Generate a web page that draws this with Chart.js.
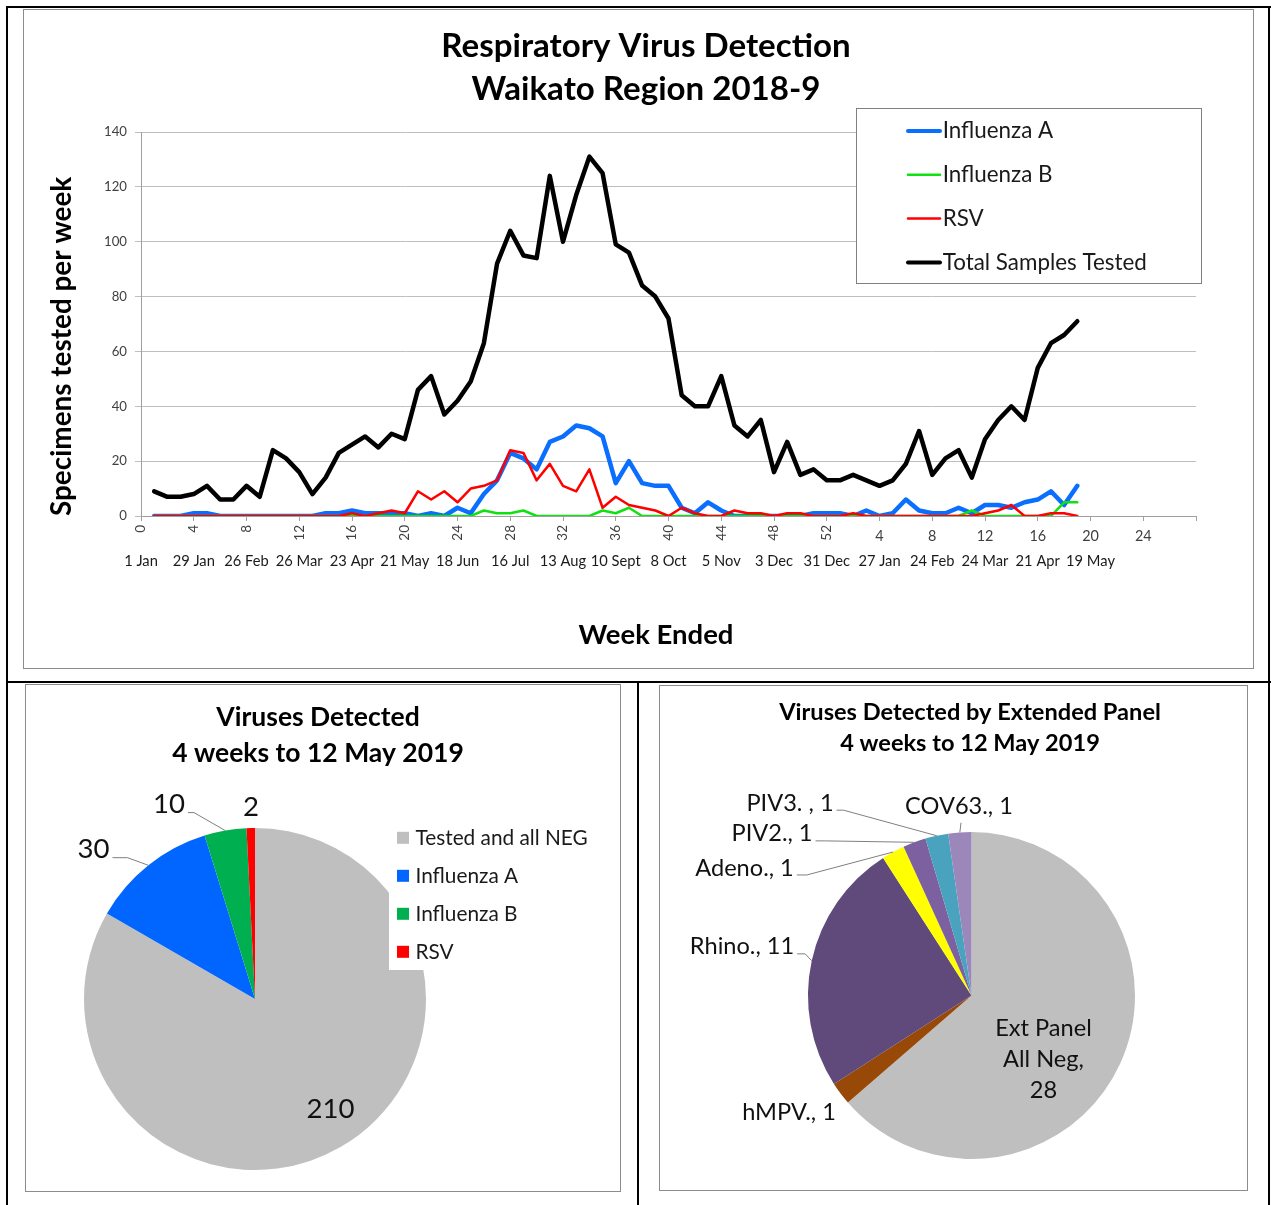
<!DOCTYPE html>
<html lang="en">
<head>
<meta charset="utf-8">
<title>Respiratory Virus Detection - Waikato Region 2018-9</title>
<script src="https://cdn.jsdelivr.net/npm/chart.js@4.4.1/dist/chart.umd.min.js"></script>
<style>
  html, body { margin: 0; padding: 0; background: #fff; }
  #page { position: relative; width: 1271px; height: 1205px; overflow: hidden; background: #fff; }
  .rule { position: absolute; background: #000; }
  .frame { position: absolute; box-sizing: border-box; border: 1px solid #8c8c8c; }
  .frame .box { position: absolute; left: 0; top: 0; right: 0; bottom: 0; }
</style>
</head>
<body>
<div id="page">
  <div class="frame" style="left:23px;top:9px;width:1231px;height:660px"><div class="box"><canvas id="trendChart"></canvas></div></div>
  <div class="frame" style="left:25px;top:684px;width:596px;height:508px"><div class="box"><canvas id="virusPie"></canvas></div></div>
  <div class="frame" style="left:659px;top:685px;width:589px;height:506px"><div class="box"><canvas id="panelPie"></canvas></div></div>
  <div class="rule" style="left:6px;top:6px;width:1265px;height:2px"></div>
  <div class="rule" style="left:6px;top:6px;width:2px;height:1199px"></div>
  <div class="rule" style="left:1268px;top:6px;width:2px;height:1199px"></div>
  <div class="rule" style="left:6px;top:681px;width:1265px;height:2px"></div>
  <div class="rule" style="left:637px;top:681px;width:2px;height:524px"></div>
</div>
<script>
const FONT = "Lato, 'Open Sans', sans-serif";

// weekly counts: 2018 weeks 1-52 followed by 2019 weeks 1-19
const fluA = [
  0, 0, 0, 1, 1, 0, 0, 0, 0, 0,
  0, 0, 0, 1, 1, 2, 1, 1, 1, 1,
  0, 1, 0, 3, 1, 8, 13, 23, 21, 17,
  27, 29, 33, 32, 29, 12, 20, 12, 11, 11,
  3, 1, 5, 2, 0, 0, 0, 0, 0, 0,
  1, 1,
  1, 0, 2, 0, 1, 6, 2, 1, 1, 3,
  1, 4, 4, 3, 5, 6, 9, 4, 11
];
const fluB = [
  0, 0, 0, 0, 0, 0, 0, 0, 0, 0,
  0, 0, 0, 0, 0, 0, 0, 0, 0, 0,
  0, 0, 0, 0, 0, 2, 1, 1, 2, 0,
  0, 0, 0, 0, 2, 1, 3, 0, 0, 0,
  0, 0, 0, 0, 0, 0, 0, 0, 0, 0,
  0, 0,
  0, 0, 0, 0, 0, 0, 0, 0, 0, 0,
  2, 0, 0, 0, 0, 0, 0, 5, 5
];
const rsv = [
  0, 0, 0, 0, 0, 0, 0, 0, 0, 0,
  0, 0, 0, 0, 0, 1, 0, 1, 2, 1,
  9, 6, 9, 5, 10, 11, 13, 24, 23, 13,
  19, 11, 9, 17, 3, 7, 4, 3, 2, 0,
  3, 1, 0, 0, 2, 1, 1, 0, 1, 1,
  0, 0,
  0, 1, 0, 0, 0, 0, 0, 0, 0, 0,
  0, 1, 2, 4, 0, 0, 1, 1, 0
];
const totalTested = [
  9, 7, 7, 8, 11, 6, 6, 11, 7, 24,
  21, 16, 8, 14, 23, 26, 29, 25, 30, 28,
  46, 51, 37, 42, 49, 63, 92, 104, 95, 94,
  124, 100, 117, 131, 125, 99, 96, 84, 80, 72,
  44, 40, 40, 51, 33, 29, 35, 16, 27, 15,
  17, 13,
  13, 15, 13, 11, 13, 19, 31, 15, 21, 24,
  14, 28, 35, 40, 35, 54, 63, 66, 71
];

// axis labels (continuous week number; 2019 restarts the count)
const weekTickValues = [0, 4, 8, 12, 16, 20, 24, 28, 32, 36, 40, 44, 48, 52, 56, 60, 64, 68, 72, 76];
const weekTickLabels = ['0', '4', '8', '12', '16', '20', '24', '28', '32', '36', '40', '44', '48', '52', '4', '8', '12', '16', '20', '24'];
const weekEndedValues = [0, 4, 8, 12, 16, 20, 24, 28, 32, 36, 40, 44, 48, 52, 56, 60, 64, 68, 72];
const weekEndedLabels = ['1 Jan', '29 Jan', '26 Feb', '26 Mar', '23 Apr', '21 May', '18 Jun', '16 Jul', '13 Aug',
  '10 Sept', '8 Oct', '5 Nov', '3 Dec', '31 Dec', '27 Jan', '24 Feb', '24 Mar', '21 Apr', '19 May'];

// pie: viruses detected, 4 weeks to 12 May 2019
const virusLabels = ['Tested and all NEG', 'Influenza A', 'Influenza B', 'RSV'];
const virusCounts = [210, 30, 10, 2];
const virusColours = ['#bfbfbf', '#0066ff', '#00b050', '#ff0000'];

// pie: extended panel
const panelLabels = ['Ext Panel\nAll Neg', 'hMPV.', 'Rhino.', 'Adeno.', 'PIV2.', 'PIV3. ', 'COV63.'];
const panelCounts = [28, 1, 11, 1, 1, 1, 1];
const panelColours = ['#bfbfbf', '#984807', '#604a7b', '#ffff00', '#7d60a0', '#4aa3be', '#9b87b9'];

// pick a font size so a string spans the width it has in the original
const measureCtx = document.createElement('canvas').getContext('2d');
function fitSize(text, weight, width) {
    measureCtx.font = `${weight} 100px ${FONT}`;
    return Math.round(1000 * width / measureCtx.measureText(text).width) / 10;
}

const toPoints = arr => arr.map((v, i) => ({ x: i + 1, y: v }));

// free text drawn at fixed canvas spots (titles)
const panelText = {
    id: 'panelText',
    afterDraw(chart, args, opts) {
        const { ctx } = chart;
        ctx.save();
        ctx.fillStyle = '#000';
        ctx.textAlign = 'center';
        ctx.textBaseline = 'middle';
        (opts.items || []).forEach(it => {
            ctx.font = `${it.weight || 'normal'} ${it.size}px ${FONT}`;
            ctx.fillText(it.text, it.x, it.y);
        });
        ctx.restore();
    }
};

// legend with white backing box, placed where the original had it
const boxLegend = {
    id: 'boxLegend',
    afterDraw(chart, args, opts) {
        if (!opts.box) return;
        const { ctx } = chart;
        const b = opts.box;
        ctx.save();
        ctx.fillStyle = '#fff';
        ctx.fillRect(b.x, b.y, b.w, b.h);
        if (opts.borderColor) {
            ctx.strokeStyle = opts.borderColor;
            ctx.lineWidth = 1;
            ctx.strokeRect(b.x + 0.5, b.y + 0.5, b.w - 1, b.h - 1);
        }
        let items;
        if (opts.marker === 'line') {
            items = chart.data.datasets.map(ds => ({ text: ds.label, color: ds.borderColor, width: ds.borderWidth }));
        } else {
            const ds = chart.data.datasets[0];
            items = chart.data.labels.map((l, i) => ({ text: l, color: ds.backgroundColor[i] }));
        }
        ctx.font = `${opts.size}px ${FONT}`;
        ctx.textBaseline = 'middle';
        ctx.textAlign = 'left';
        items.forEach((it, i) => {
            const y = opts.firstY + i * opts.stepY;
            if (opts.marker === 'line') {
                ctx.strokeStyle = it.color;
                ctx.lineWidth = Math.min(it.width, 4);
                ctx.lineCap = 'round';
                ctx.beginPath();
                ctx.moveTo(opts.markerX, y);
                ctx.lineTo(opts.markerX + opts.markerW, y);
                ctx.stroke();
            } else {
                ctx.fillStyle = it.color;
                ctx.fillRect(opts.markerX, y - opts.markerW / 2, opts.markerW, opts.markerW);
            }
            ctx.fillStyle = '#1a1a1a';
            ctx.fillText(it.text, opts.textX, y);
        });
        ctx.restore();
    }
};

// week numbers (2018 rotated, 2019 flat) and the "week ended" date row
const weekAxisLabels = {
    id: 'weekAxisLabels',
    afterDraw(chart, args, opts) {
        const { ctx } = chart;
        const x = chart.scales.x;
        ctx.save();
        ctx.fillStyle = '#404040';
        ctx.textBaseline = 'middle';
        weekTickValues.forEach((v, i) => {
            const px = x.getPixelForValue(v);
            if (v <= 52) {
                ctx.save();
                ctx.translate(px, x.top + 9);
                ctx.rotate(-Math.PI / 2);
                ctx.textAlign = 'right';
                ctx.font = `${opts.rotatedSize}px ${FONT}`;
                ctx.fillText(weekTickLabels[i], 0, 0);
                ctx.restore();
            } else {
                ctx.textAlign = 'center';
                ctx.font = `${opts.flatSize}px ${FONT}`;
                ctx.fillText(weekTickLabels[i], px, x.top + 20.5);
            }
        });
        ctx.fillStyle = '#1a1a1a';
        ctx.textAlign = 'center';
        ctx.font = `${opts.dateSize}px ${FONT}`;
        weekEndedValues.forEach((v, i) => {
            ctx.fillText(weekEndedLabels[i], x.getPixelForValue(v), x.top + 45);
        });
        ctx.restore();
    }
};

// pie value labels with Excel-style leader lines to the slice edge
const sliceLabels = {
    id: 'sliceLabels',
    afterDatasetsDraw(chart, args, opts) {
        const { ctx } = chart;
        const arcs = chart.getDatasetMeta(0).data;
        const labels = chart.data.labels;
        const values = chart.data.datasets[0].data;
        const cx = arcs[0].x, cy = arcs[0].y;
        ctx.save();
        ctx.font = `${opts.size}px ${FONT}`;
        ctx.textAlign = 'center';
        ctx.textBaseline = 'middle';
        opts.items.forEach((it, i) => {
            const text = opts.format(labels[i], values[i], it.wrap);
            const lines = text.split('\n');
            const tx = cx + it.dx, ty = cy + it.dy;
            ctx.fillStyle = '#111';
            lines.forEach((ln, k) => ctx.fillText(ln, tx, ty + k * opts.lineHeight));
            if (it.elbow === undefined && !it.drop) return;
            const arc = arcs[i];
            const mid = (arc.startAngle + arc.endAngle) / 2;
            const ex = arc.x + Math.cos(mid) * arc.outerRadius;
            const ey = arc.y + Math.sin(mid) * arc.outerRadius;
            ctx.strokeStyle = '#7f7f7f';
            ctx.lineWidth = 1;
            ctx.beginPath();
            if (it.drop) {
                ctx.moveTo(tx + 2, ty + opts.size * 0.68);
            } else {
                const sx = tx + ctx.measureText(lines[0]).width / 2 + 3;
                const sy = ty + opts.size * 0.3;
                ctx.moveTo(sx, sy);
                ctx.lineTo(sx + it.elbow, sy);
            }
            ctx.lineTo(ex, ey);
            ctx.stroke();
        });
        ctx.restore();
    }
};

// ---------- line chart ----------
const yTitleSize = fitSize('Specimens tested per week', 'bold', 339);
new Chart(document.getElementById('trendChart'), {
    type: 'line',
    data: {
        datasets: [
            { label: 'Influenza A', data: toPoints(fluA), borderColor: '#0a6eff', borderWidth: 4.5, order: 3 },
            { label: 'Influenza B', data: toPoints(fluB), borderColor: '#11e011', borderWidth: 2.5, order: 2 },
            { label: 'RSV', data: toPoints(rsv), borderColor: '#ff0000', borderWidth: 2.5, order: 1 },
            { label: 'Total Samples Tested', data: toPoints(totalTested), borderColor: '#000000', borderWidth: 4.5, order: 0 }
        ]
    },
    options: {
        responsive: true,
        maintainAspectRatio: false,
        animation: false,
        layout: { padding: { top: 122, right: 57, left: 0, bottom: 0 } },
        elements: {
            point: { radius: 0 },
            line: { tension: 0, borderJoinStyle: 'round', borderCapStyle: 'round', fill: false }
        },
        scales: {
            x: {
                type: 'linear',
                min: 0,
                max: 80,
                ticks: { stepSize: 4, display: false },
                grid: { drawOnChartArea: false, drawTicks: true, tickLength: 5, color: '#a0a0a0' },
                border: { color: '#a0a0a0' },
                afterFit: scale => { scale.height = 152; }
            },
            y: {
                min: 0,
                max: 140,
                ticks: { stepSize: 20, padding: 8, color: '#404040', font: { family: FONT, size: fitSize('140', 'normal', 23) } },
                grid: { color: '#bebebe', tickLength: 6 },
                border: { color: '#a0a0a0' },
                title: {
                    display: true,
                    text: 'Specimens tested per week',
                    align: 'start',
                    color: '#000',
                    font: { family: FONT, size: yTitleSize, weight: 'bold' },
                    padding: { top: 38 - yTitleSize * 0.6, bottom: 0 }
                },
                afterFit: scale => { scale.width = 117; }
            }
        },
        plugins: {
            legend: { display: false },
            tooltip: { enabled: false },
            panelText: {
                items: [
                    { text: 'Respiratory Virus Detection', x: 622, y: 36, size: fitSize('Respiratory Virus Detection', 'bold', 410), weight: 'bold' },
                    { text: 'Waikato Region 2018-9', x: 622, y: 79, size: fitSize('Respiratory Virus Detection', 'bold', 410), weight: 'bold' },
                    { text: 'Week Ended', x: 632, y: 625, size: fitSize('Week Ended', 'bold', 155), weight: 'bold' }
                ]
            },
            boxLegend: {
                box: { x: 832, y: 98, w: 346, h: 176 },
                borderColor: '#808080',
                marker: 'line',
                markerX: 884,
                markerW: 32,
                textX: 918.7,
                firstY: 121,
                stepY: 43.8,
                size: fitSize('Total Samples Tested', 'normal', 204)
            },
            weekAxisLabels: {
                rotatedSize: 13.5,
                flatSize: fitSize('20', 'normal', 16.7),
                dateSize: fitSize('19 May', 'normal', 49)
            }
        }
    },
    plugins: [panelText, boxLegend, weekAxisLabels]
});

// ---------- pie: viruses detected ----------
const pie1TitleSize = fitSize('4 weeks to 12 May 2019', 'bold', 292);
new Chart(document.getElementById('virusPie'), {
    type: 'pie',
    data: {
        labels: virusLabels,
        datasets: [{ data: virusCounts, backgroundColor: virusColours, borderWidth: 0 }]
    },
    options: {
        responsive: true,
        maintainAspectRatio: false,
        animation: false,
        layout: { padding: { left: 58, right: 194, top: 143, bottom: 21 } },
        plugins: {
            legend: { display: false },
            tooltip: { enabled: false },
            panelText: {
                items: [
                    { text: 'Viruses Detected', x: 292, y: 32.6, size: pie1TitleSize, weight: 'bold' },
                    { text: '4 weeks to 12 May 2019', x: 292, y: 68.7, size: pie1TitleSize, weight: 'bold' }
                ]
            },
            boxLegend: {
                box: { x: 363, y: 133, w: 231, h: 152 },
                marker: 'square',
                markerX: 371,
                markerW: 12,
                textX: 389.5,
                firstY: 152.8,
                stepY: 38,
                size: fitSize('Tested and all NEG', 'normal', 172)
            },
            sliceLabels: {
                size: fitSize('30', 'normal', 32),
                lineHeight: 31,
                format: (label, value) => String(value),
                items: [
                    { dx: 75.5, dy: 110 },
                    { dx: -161.5, dy: -149.6, elbow: 15 },
                    { dx: -86, dy: -194.7, elbow: 6 },
                    { dx: -4, dy: -192 }
                ]
            }
        }
    },
    plugins: [sliceLabels, boxLegend, panelText]
});

// ---------- pie: extended panel ----------
const pie2TitleSize = fitSize('Viruses Detected by Extended Panel', 'bold', 382);
new Chart(document.getElementById('panelPie'), {
    type: 'pie',
    data: {
        labels: panelLabels,
        datasets: [{ data: panelCounts, backgroundColor: panelColours, borderWidth: 0 }]
    },
    options: {
        responsive: true,
        maintainAspectRatio: false,
        animation: false,
        layout: { padding: { left: 148, right: 112, top: 146, bottom: 31 } },
        plugins: {
            legend: { display: false },
            tooltip: { enabled: false },
            panelText: {
                items: [
                    { text: 'Viruses Detected by Extended Panel', x: 310, y: 26, size: pie2TitleSize, weight: 'bold' },
                    { text: '4 weeks to 12 May 2019', x: 310, y: 57, size: pie2TitleSize, weight: 'bold' }
                ]
            },
            sliceLabels: {
                size: fitSize('Rhino., 11', 'normal', 104.5),
                lineHeight: 31,
                format: (label, value, wrap) => wrap ? `${label},\n${value}` : `${label}, ${value}`,
                items: [
                    { dx: 72, dy: 32.4, wrap: true },
                    { dx: -182.5, dy: 117 },
                    { dx: -229.5, dy: -48.7, elbow: 8 },
                    { dx: -227, dy: -127.6, elbow: 10 },
                    { dx: -199.5, dy: -161.7, elbow: 10 },
                    { dx: -181.5, dy: -192.4, elbow: 7 },
                    { dx: -12.5, dy: -188.8, drop: true }
                ]
            }
        }
    },
    plugins: [sliceLabels, panelText]
});
</script>
</body>
</html>
